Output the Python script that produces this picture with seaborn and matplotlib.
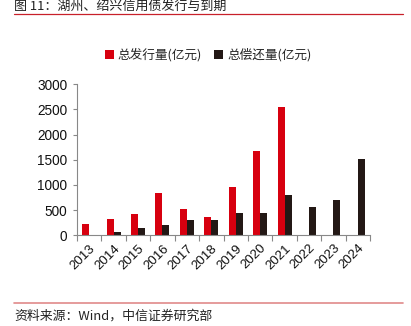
import numpy as np
import pandas as pd
import matplotlib
matplotlib.use("Agg")
import matplotlib.pyplot as plt
import seaborn as sns
from matplotlib.lines import Line2D
from matplotlib.patches import Patch

years = ["2013", "2014", "2015", "2016", "2017", "2018", "2019", "2020", "2021", "2022", "2023", "2024"]
issuance = [220, 318, 417, 841, 523, 364, 954, 1670, 2545, 0, 0, 0]
repayment = [8, 60, 145, 199, 298, 310, 437, 443, 807, 563, 696, 1523]
series_names = ["总发行量(亿元)", "总偿还量(亿元)"]
yticks = [0, 500, 1000, 1500, 2000, 2500, 3000]

title_text = "图 11：湖州、绍兴信用债发行与到期"
source_text = "资料来源：Wind，中信证券研究部"

RED = "#D7000F"
BLACK = "#231815"

sns.set_theme(style="white")
plt.rcParams["font.family"] = ["Liberation Sans", "Noto Sans CJK SC", "DejaVu Sans"]

df = pd.DataFrame({
    "year": years * 2,
    "value": issuance + repayment,
    "series": [series_names[0]] * len(years) + [series_names[1]] * len(years),
})

fig = plt.figure(figsize=(4.11, 3.26), dpi=100)
ax = fig.add_axes([77 / 411, 1 - 235.3 / 326, (370 - 77) / 411, (235.3 - 84.3) / 326])

sns.barplot(data=df, x="year", y="value", hue="series", order=years,
            hue_order=series_names, palette=[RED, BLACK], width=0.57,
            dodge=True, ax=ax, legend=False, errorbar=None, saturation=1,
            linewidth=0)

ax.set_ylim(0, 3000)
ax.set_xlim(-0.5, len(years) - 0.5)
ax.set_yticks(yticks)
ax.set_yticklabels([str(v) for v in yticks], fontsize=9.8, color="#111111")
ax.set_xlabel("")
ax.set_ylabel("")
ax.set_xticks(range(len(years)))
ax.set_xticklabels(years, rotation=45, ha="right", rotation_mode="anchor", fontsize=9.5, color="#111111")
ax.tick_params(axis="x", which="major", length=0, pad=5)
ax.set_xticks(np.arange(-0.5, len(years), 1), minor=True)
ax.tick_params(axis="x", which="minor", length=4, width=0.8, color="#888888", direction="out", bottom=True)
ax.tick_params(axis="y", which="major", length=3, width=0.8, color="#888888", direction="out", left=True, pad=4)

for s in ["top", "right"]:
    ax.spines[s].set_visible(False)
for s in ["left", "bottom"]:
    ax.spines[s].set_color("#888888")
    ax.spines[s].set_linewidth(0.8)

handles = [Patch(facecolor=RED, edgecolor="none"), Patch(facecolor=BLACK, edgecolor="none")]
fig.legend(handles, series_names, loc="center", bbox_to_anchor=(208 / 411, 1 - 55 / 326),
           ncol=2, frameon=False, handlelength=0.7, handleheight=0.7,
           handletextpad=0.3, columnspacing=1.0,
           prop={"family": ["Noto Sans CJK SC", "DejaVu Sans"], "size": 9.1})

fig.text(14 / 411, 1 - 6 / 326, title_text, ha="left", va="center", fontsize=9.4,
         color="#222222", family=["Noto Sans CJK SC", "DejaVu Sans"])
fig.add_artist(Line2D([14 / 411, 403 / 411], [1 - 13.5 / 326] * 2, color="#C8202A", linewidth=0.9))
fig.add_artist(Line2D([14 / 411, 403 / 411], [1 - 303.3 / 326] * 2, color="#E08A8A", linewidth=1.2))
fig.text(14 / 411, 1 - 316.5 / 326, source_text, ha="left", va="center", fontsize=9.3,
         color="#222222", family=["Noto Sans CJK SC", "DejaVu Sans"])

fig.savefig("out.png", dpi=100)
